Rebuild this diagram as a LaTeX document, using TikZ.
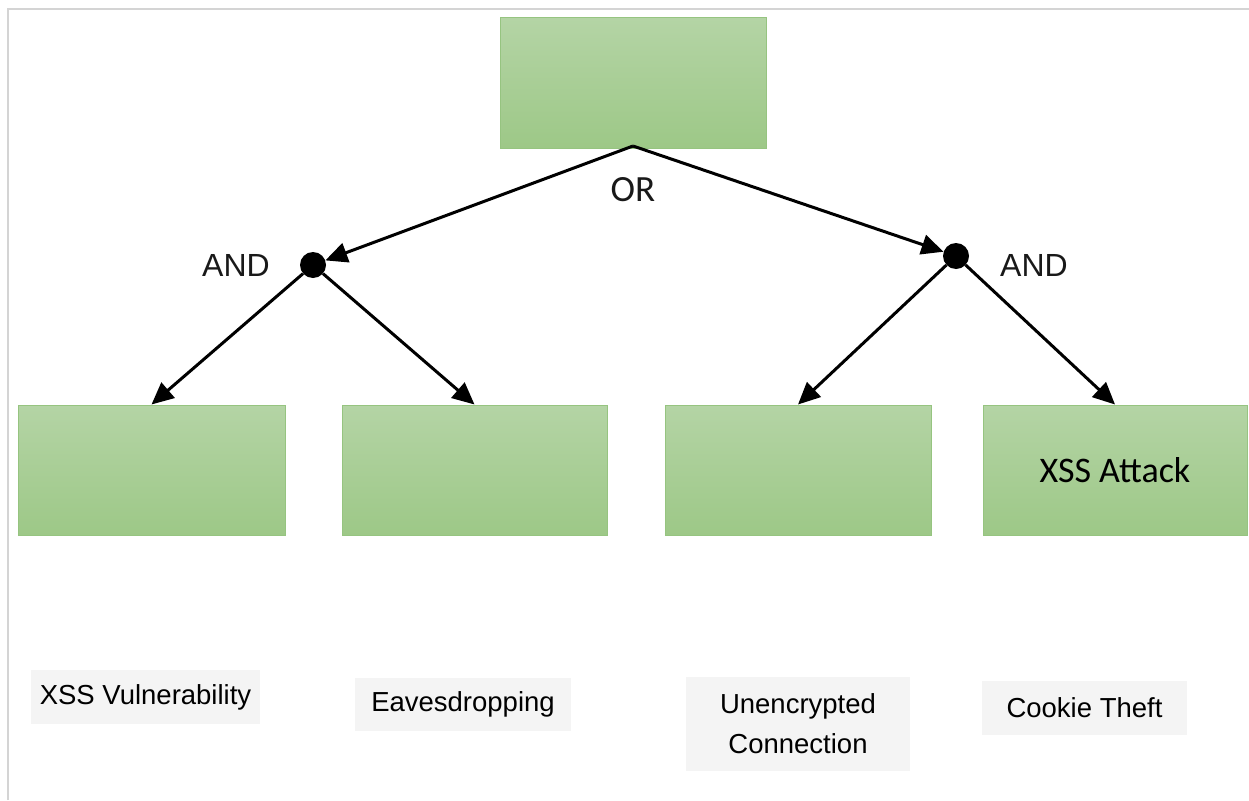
\documentclass[tikz,border=0pt]{standalone}
\usepackage{fontspec}
\setmainfont{Liberation Sans}
\newfontfamily\calfont{Carlito}
\usetikzlibrary{arrows.meta}
\definecolor{gtop}{RGB}{180,212,165}
\definecolor{gbot}{RGB}{157,200,135}
\definecolor{gedge}{RGB}{150,196,128}
\definecolor{lblfill}{RGB}{244,244,244}
\definecolor{frame}{RGB}{212,212,212}
\tikzset{
  gbox/.style={rectangle, draw=gedge, line width=1pt, top color=gtop, bottom color=gbot, minimum width=266pt, minimum height=130pt, inner sep=0pt},
  andnode/.style={circle, fill=black, minimum size=26pt, inner sep=0pt},
  conn/.style={line width=3pt, -{Triangle[length=22pt,width=20pt]}},
  glabel/.style={font=\fontsize{32}{38}\selectfont, text=black!90},
  lbl/.style={rectangle, fill=lblfill, inner sep=0pt, align=center, font=\fontsize{27.5}{40}\selectfont, text=black},
}
\begin{document}
\begin{tikzpicture}[x=1pt,y=-1pt]
\useasboundingbox (0,0) rectangle (1249,800);
\draw[frame, line width=2pt] (8,800) -- (8,9) -- (1249,9);
% boxes
\node[gbox] (top) at (633,83) {};
\node[gbox, minimum width=267pt] (b1) at (151.5,470) {};
\node[gbox, minimum width=265pt] (b2) at (474.5,470) {};
\node[gbox] (b3) at (798,470) {};
\node[gbox, minimum width=264pt] (b4) at (1115,470) {\calfont\fontsize{36}{42}\selectfont XSS Attack};
% gates
\node[andnode] (andL) at (313,265) {};
\node[andnode] (andR) at (956,256) {};
\coordinate (apex) at (633,146);
\draw[conn] (apex) -- (andL);
\draw[conn] (apex) -- (andR);
\draw[conn] (andL) -- (b1.north);
\draw[conn] (andL) -- (b2.north);
\draw[conn] (andR) -- (b3.north);
\draw[conn] (andR) -- (b4.north);
% gate labels
\node[glabel, font=\calfont\fontsize{37}{42}\selectfont] (orlbl) at (633,190) {OR};
\node[glabel] (andLl) at (236,265) {AND};
\node[glabel] (andRl) at (1034,265) {AND};
% bottom labels
\node[lbl, minimum width=229pt, minimum height=54pt] (l1) at (145.5,697) {XSS Vulnerability};
\node[lbl, minimum width=216pt, minimum height=53pt] (l2) at (463,704.5) {Eavesdropping};
\node[lbl, minimum width=224pt, minimum height=94pt] (l3) at (798,724) {Unencrypted\\Connection};
\node[lbl, minimum width=205pt, minimum height=54pt] (l4) at (1084.5,708) {Cookie Theft};
\end{tikzpicture}
\end{document}
